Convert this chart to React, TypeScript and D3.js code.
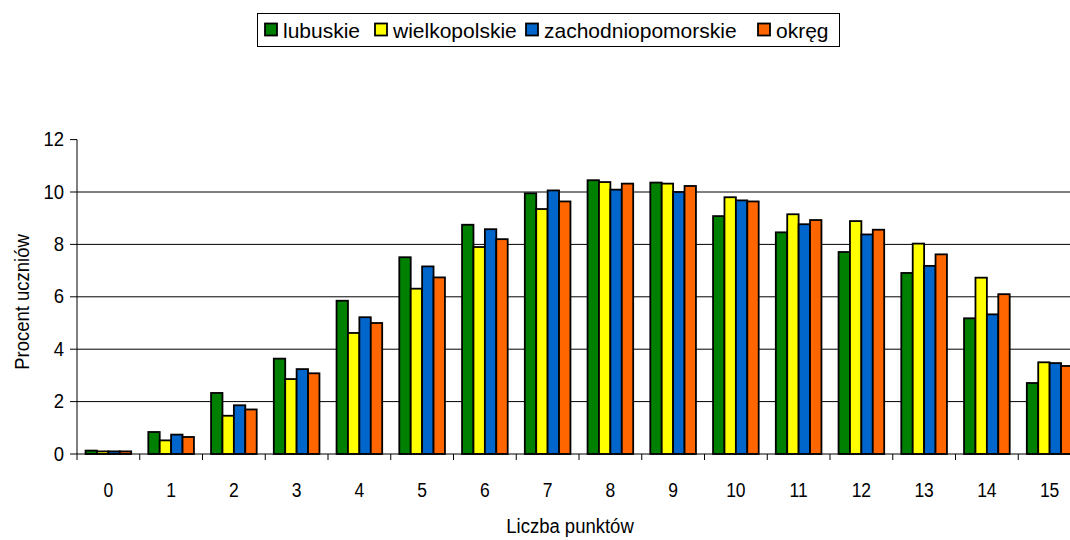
import React from "react";
import * as d3 from "d3";

const categories = ["0","1","2","3","4","5","6","7","8","9","10","11","12","13","14","15"];
const seriesNames = ["lubuskie", "wielkopolskie", "zachodniopomorskie", "okręg"];
const lubuskie = [0.13, 0.84, 2.33, 3.64, 5.85, 7.51, 8.75, 9.95, 10.45, 10.36, 9.08, 8.46, 7.71, 6.91, 5.18, 2.71];
const wielkopolskie = [0.1, 0.52, 1.46, 2.86, 4.62, 6.31, 7.9, 9.35, 10.38, 10.32, 9.8, 9.15, 8.89, 8.03, 6.73, 3.5];
const zachodniopomorskie = [0.1, 0.74, 1.86, 3.24, 5.22, 7.16, 8.58, 10.06, 10.09, 10.0, 9.68, 8.77, 8.38, 7.18, 5.33, 3.47];
const okreg = [0.1, 0.65, 1.7, 3.08, 5.0, 6.74, 8.2, 9.64, 10.32, 10.23, 9.64, 8.93, 8.56, 7.62, 6.1, 3.36];
const yTicks = [0, 2, 4, 6, 8, 10, 12];
const colors = ["#008000", "#FFFF00", "#0066CC", "#FF6600"];

export default function App() {
  const W = 1070, H = 540;
  const left = 77, bottom = 454, top = 139.6;
  const band = 62.75;
  const x = d3.scaleBand<string>().domain(categories).range([left, left + band * categories.length]).paddingInner(0).paddingOuter(0);
  const y = d3.scaleLinear().domain([0, 12]).range([bottom, top]);
  const series = [lubuskie, wielkopolskie, zachodniopomorskie, okreg];
  const barW = band / 5.5;
  const inner = d3.scaleBand<number>().domain([0, 1, 2, 3]).range([0, barW * 4]);
  const font = "'Liberation Sans', Arial, sans-serif";

  const legendX = [265, 375, 526, 758];

  return (
    <svg width={W} height={H} style={{ position: "fixed", left: 0, top: 0, background: "#fff" }} fontFamily={font}>
      {/* gridlines */}
      {yTicks.filter(t => t > 0 && t < 12).map(t => (
        <line key={"g" + t} x1={left} x2={W} y1={y(t)} y2={y(t)} stroke="#000" strokeWidth={1} />
      ))}
      {/* bars */}
      {categories.map((c, i) => (
        <g key={c}>
          {series.map((s, k) => (
            <rect key={k}
              x={(x(c) as number) + (band - barW * 4) / 2 + (inner(k) as number)}
              y={y(s[i])}
              width={barW}
              height={bottom - y(s[i])}
              fill={colors[k]} stroke="#000" strokeWidth={1.8} />
          ))}
        </g>
      ))}
      {/* axes */}
      <line x1={left} x2={left} y1={top} y2={bottom} stroke="#000" strokeWidth={1} />
      <line x1={left} x2={W} y1={bottom} y2={bottom} stroke="#000" strokeWidth={1} />
      {yTicks.map(t => (
        <g key={"y" + t}>
          <line x1={left - 7} x2={left} y1={y(t)} y2={y(t)} stroke="#000" />
          <text transform={`translate(${left - 13},${y(t) + 6.5}) scale(1,1.1)`} textAnchor="end" fontSize={18.5}>{t}</text>
        </g>
      ))}
      {categories.map((c) => (
        <line key={"xt" + c} x1={(x(c) as number)} x2={(x(c) as number)} y1={bottom} y2={bottom + 6} stroke="#000" />
      ))}
      {categories.map(c => (
        <text key={"xl" + c} transform={`translate(${(x(c) as number) + band / 2},497) scale(1,1.18)`} textAnchor="middle" fontSize={17.5}>{c}</text>
      ))}
      <text transform="translate(570,533) scale(1,1.1)" textAnchor="middle" fontSize={18.5}>Liczba punktów</text>
      <text transform={`translate(29,302) rotate(-90) scale(1,1.12)`} textAnchor="middle" fontSize={18.5}>Procent uczniów</text>
      {/* legend */}
      <rect x={257.5} y={13.5} width={582} height={33} fill="#fff" stroke="#000" strokeWidth={1} />
      {seriesNames.map((n, k) => (
        <g key={n}>
          <rect x={legendX[k]} y={23.5} width={12} height={12} fill={colors[k]} stroke="#000" strokeWidth={1.8} />
          <text x={legendX[k] + 18} y={37.5} fontSize={21}>{n}</text>
        </g>
      ))}
    </svg>
  );
}
